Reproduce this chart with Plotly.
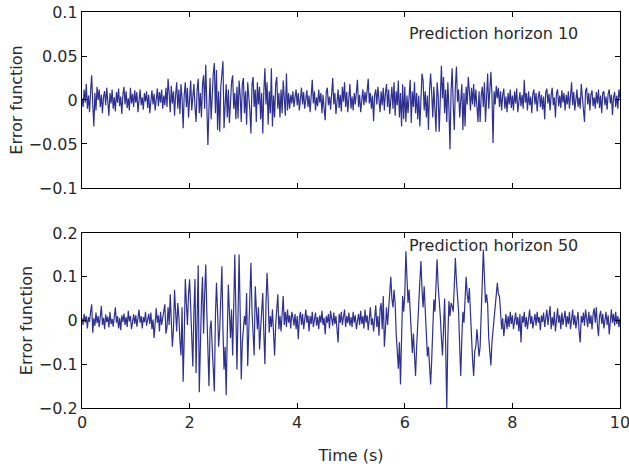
import plotly.graph_objects as go

dt = 0.02
time_s = [round(i * dt, 2) for i in range(501)]

# Error function, prediction horizon 10
err_h10 = [
 0.002,-0.008,0.012,-0.003,0.018,-0.010,0.005,-0.014,0.010,0.028,-0.005,-0.030,0.008,-0.012,0.015,0.000,0.012,-0.008,0.006,-0.015,0.004,0.010,-0.006,0.014,-0.002,-0.018,0.008,-0.004,0.012,-0.010,0.003,-0.013,0.009,-0.003,0.013,-0.007,0.004,-0.016,0.006,0.015,-0.005,0.010,-0.009,0.002,-0.012,0.014,-0.004,0.007,-0.008,0.011,
 -0.003,0.009,-0.014,0.005,0.012,-0.006,0.003,-0.011,0.008,-0.002,0.010,-0.009,0.006,-0.015,0.002,0.011,-0.005,0.007,-0.012,0.004,0.013,-0.007,0.009,-0.003,0.012,-0.010,0.005,-0.006,0.014,-0.008,0.024,0.008,-0.014,0.016,-0.004,0.010,-0.018,0.006,0.020,-0.010,0.012,-0.016,0.018,0.002,-0.032,0.006,0.020,-0.008,0.014,-0.020,
 0.010,0.022,-0.012,0.005,0.018,-0.008,-0.025,0.012,0.024,-0.015,0.008,-0.020,0.018,0.028,-0.010,0.040,0.005,-0.051,-0.010,0.025,-0.022,0.010,0.030,0.042,-0.015,0.034,-0.034,0.010,-0.036,0.015,0.030,0.044,-0.032,-0.005,0.018,-0.020,0.012,-0.026,0.005,0.020,0.028,-0.010,0.008,-0.022,0.015,-0.021,0.022,0.005,-0.025,0.018,
 0.025,-0.015,0.010,-0.028,0.020,0.005,-0.012,-0.038,0.018,0.026,-0.008,0.012,-0.025,0.020,-0.005,0.015,-0.022,0.008,-0.038,0.010,0.036,-0.005,0.020,-0.028,0.010,-0.015,0.036,-0.030,0.005,-0.020,0.018,0.026,-0.010,0.008,-0.020,0.012,-0.015,0.022,0.005,-0.018,0.030,-0.012,0.008,-0.010,0.006,-0.004,0.010,-0.008,0.003,0.012,
 -0.006,0.008,-0.012,0.004,0.014,-0.005,0.009,-0.010,0.002,0.011,-0.008,0.005,-0.014,0.007,0.023,-0.004,0.010,-0.012,0.003,-0.007,0.012,-0.003,0.008,-0.015,0.006,-0.010,-0.023,0.009,0.014,-0.006,0.004,-0.011,0.010,0.025,-0.005,0.008,-0.016,0.002,0.012,-0.009,0.006,-0.013,0.015,-0.002,0.020,-0.008,0.009,-0.014,0.005,0.018,
 -0.010,0.004,-0.012,0.008,-0.005,0.010,0.023,-0.008,0.006,-0.014,0.003,0.012,-0.006,0.009,-0.003,0.014,0.024,-0.004,0.008,-0.010,0.005,-0.024,0.006,0.012,-0.005,0.015,0.002,-0.014,0.010,-0.006,0.014,-0.012,0.008,0.018,-0.008,0.012,-0.016,0.005,0.015,-0.010,0.020,-0.018,0.010,-0.006,0.022,-0.020,0.008,-0.030,0.018,-0.022,
 0.015,-0.025,0.005,-0.015,0.012,0.023,-0.026,0.010,-0.008,0.020,-0.015,0.008,-0.022,0.005,-0.030,0.015,0.030,0.022,-0.012,0.010,-0.020,0.005,-0.034,0.012,0.030,0.008,-0.020,0.015,-0.010,-0.036,0.020,0.005,-0.036,0.010,0.039,0.002,0.026,-0.015,0.012,-0.025,0.020,-0.010,-0.056,0.010,0.036,-0.005,-0.034,0.015,0.038,-0.002,
 0.012,-0.020,0.005,0.018,-0.034,0.008,-0.030,0.015,-0.005,0.026,0.010,-0.012,0.014,-0.005,0.018,-0.008,0.012,-0.015,-0.025,0.010,-0.025,0.005,0.015,-0.008,0.020,-0.025,0.010,0.030,-0.010,0.015,0.032,0.005,-0.049,0.010,-0.005,0.016,0.002,0.014,-0.008,0.010,-0.012,0.006,0.013,-0.010,0.004,-0.014,0.008,-0.005,0.012,-0.009,
 0.005,-0.012,0.010,-0.004,0.013,-0.014,0.003,0.009,-0.007,0.006,-0.010,0.023,-0.003,0.008,-0.012,0.010,-0.006,0.004,-0.015,0.007,0.012,-0.005,0.008,-0.013,0.003,0.010,-0.008,0.006,-0.011,0.004,-0.022,0.009,0.013,-0.004,0.007,-0.012,0.005,0.014,-0.006,0.003,-0.020,0.008,0.012,-0.007,0.005,-0.009,0.011,-0.003,0.008,-0.012,
 0.006,-0.005,0.010,-0.010,0.004,0.020,-0.006,0.009,-0.012,0.005,0.012,-0.008,0.003,-0.010,0.018,0.004,-0.008,-0.025,0.010,0.014,-0.005,0.008,-0.012,0.006,0.011,-0.007,0.003,-0.010,0.009,-0.004,0.012,-0.009,0.005,-0.015,0.008,0.010,-0.006,0.004,-0.011,0.007,0.012,-0.004,0.006,-0.017,0.003,0.009,-0.008,0.005,-0.010,0.012,0.002,
]

# Error function, prediction horizon 50
err_h50 = [
 0.005,-0.010,0.015,-0.005,0.010,-0.018,0.008,-0.003,0.020,0.037,-0.028,0.005,-0.012,0.018,-0.006,0.010,-0.015,0.012,0.033,-0.010,0.006,-0.020,0.014,-0.004,0.009,-0.016,0.020,-0.008,0.004,-0.014,0.015,0.030,-0.005,0.010,-0.018,0.006,-0.022,0.012,-0.003,0.016,-0.010,0.008,-0.015,0.022,-0.002,0.010,-0.020,0.005,0.014,-0.008,
 0.012,-0.014,0.006,0.025,-0.005,0.010,-0.018,0.008,-0.004,0.020,-0.012,0.005,0.015,-0.008,0.018,-0.020,0.002,-0.040,0.010,0.028,-0.005,0.012,-0.025,0.020,-0.010,0.005,0.025,0.037,-0.030,-0.015,0.030,-0.010,0.060,0.010,-0.060,-0.020,0.070,0.020,-0.025,0.040,0.010,-0.045,-0.080,0.030,-0.140,-0.040,0.095,0.040,-0.010,0.060,
 0.094,0.030,-0.060,-0.105,0.020,0.095,-0.120,0.010,0.126,-0.164,-0.040,0.040,0.100,-0.030,0.060,0.128,0.020,-0.090,-0.150,-0.020,0.000,-0.060,-0.120,-0.162,0.010,0.086,0.020,-0.060,-0.020,0.060,0.124,-0.020,-0.112,-0.060,-0.171,-0.030,0.082,0.020,-0.040,0.025,-0.080,0.030,0.151,0.020,-0.112,0.010,0.151,0.020,-0.135,-0.050,
 -0.020,0.010,-0.010,0.063,-0.104,-0.020,0.060,0.132,0.020,-0.040,-0.080,0.078,0.010,-0.020,0.030,-0.066,-0.020,0.020,0.063,-0.030,-0.100,0.040,0.109,0.050,-0.028,0.010,-0.015,0.025,-0.020,-0.080,-0.010,0.020,0.060,-0.020,0.010,-0.025,0.030,0.056,-0.010,0.020,-0.015,0.025,-0.005,0.012,-0.018,0.020,0.008,-0.012,0.015,-0.020,
 0.010,-0.043,0.005,0.020,-0.010,0.015,-0.020,0.008,0.025,-0.005,0.012,-0.025,0.010,-0.008,0.020,-0.015,0.005,0.018,-0.012,0.008,-0.020,0.012,-0.005,0.022,-0.010,0.006,-0.032,0.010,-0.005,0.015,-0.018,0.022,0.005,-0.012,0.018,-0.008,0.010,-0.020,-0.050,0.015,-0.005,0.020,-0.010,0.008,0.025,-0.015,0.010,-0.006,0.018,-0.012,
 0.008,-0.015,0.020,-0.005,0.012,-0.020,0.005,0.015,-0.010,0.022,-0.008,0.010,-0.018,0.025,-0.005,0.012,-0.022,0.015,0.030,-0.010,0.005,-0.025,0.020,0.035,-0.015,0.010,-0.035,0.025,0.040,-0.020,0.056,-0.060,-0.020,0.030,-0.010,0.020,0.060,0.100,0.050,0.030,0.070,0.040,-0.030,-0.060,-0.110,-0.050,-0.146,-0.040,0.056,0.020,
 0.060,0.158,0.100,0.040,0.071,0.010,-0.040,-0.074,-0.030,-0.090,-0.127,-0.060,0.010,0.040,0.090,0.136,0.070,0.030,0.078,0.020,-0.030,-0.082,-0.060,-0.100,-0.146,-0.090,-0.020,0.048,0.020,0.090,0.140,0.080,0.048,0.010,-0.040,-0.080,-0.020,0.050,-0.060,-0.203,-0.040,0.044,0.010,0.040,0.033,0.020,0.080,0.143,0.090,0.060,
 0.020,-0.060,-0.127,-0.040,0.020,-0.005,0.050,0.100,0.060,0.040,0.074,0.010,-0.043,-0.090,-0.127,-0.070,-0.060,-0.020,-0.050,-0.082,-0.060,0.030,0.120,0.162,0.100,0.040,0.060,0.037,-0.040,-0.080,-0.103,-0.050,-0.020,0.010,0.040,0.060,0.086,0.060,0.055,0.020,-0.020,0.005,-0.036,-0.010,0.015,-0.020,0.010,-0.015,0.020,-0.008,
 0.012,-0.020,0.005,0.018,-0.010,0.008,-0.025,0.015,-0.050,0.010,-0.005,0.020,-0.015,0.008,-0.020,0.012,0.025,-0.008,0.010,-0.018,0.005,0.015,-0.012,0.020,-0.005,0.008,-0.022,0.012,-0.003,0.018,-0.015,0.005,0.025,-0.010,0.015,0.033,-0.020,0.008,-0.012,0.020,-0.025,0.010,0.028,-0.005,0.012,-0.020,0.018,-0.010,0.005,0.022,
 -0.015,0.010,-0.008,0.020,-0.020,0.005,0.025,-0.010,0.012,-0.018,0.008,0.020,-0.025,-0.050,0.010,-0.005,0.018,-0.012,0.025,0.005,-0.015,0.020,-0.008,0.012,-0.020,0.015,0.028,-0.005,0.030,-0.010,-0.036,0.010,0.022,-0.008,0.015,-0.018,0.005,0.020,-0.010,0.012,-0.032,0.008,0.025,-0.005,0.015,-0.012,0.020,-0.008,0.010,-0.015,0.005,
]

x_ticks = [0, 2, 4, 6, 8, 10]
x_tick_labels = ["0", "2", "4", "6", "8", "10"]
y1_ticks = [-0.1, -0.05, 0, 0.05, 0.1]
y1_tick_labels = ["\u22120.1", "\u22120.05", "0", "0.05", "0.1"]
y2_ticks = [-0.2, -0.1, 0, 0.1, 0.2]
y2_tick_labels = ["\u22120.2", "\u22120.1", "0", "0.1", "0.2"]
labels = ["Prediction horizon 10", "Prediction horizon 50"]

LINE = "#2E3192"
FONT = "DejaVu Sans, Liberation Sans, Arial, sans-serif"
TXT = "#2a2a2a"
FS = 16

fig = go.Figure()
fig.add_trace(go.Scatter(x=time_s, y=err_h10, mode="lines",
                         line=dict(color=LINE, width=1.2), xaxis="x", yaxis="y",
                         showlegend=False, hoverinfo="skip"))
fig.add_trace(go.Scatter(x=time_s, y=err_h50, mode="lines",
                         line=dict(color=LINE, width=1.2), xaxis="x2", yaxis="y2",
                         showlegend=False, hoverinfo="skip"))

axis_common = dict(showline=True, linecolor="black", linewidth=1.3, mirror="ticks",
                   ticks="inside", ticklen=5, tickcolor="black", showgrid=False,
                   zeroline=False, automargin=False, ticklabeloverflow="allow",
                   tickfont=dict(size=FS, color=TXT, family=FONT))
title_font = dict(size=FS, family=FONT, color=TXT)

fig.update_layout(
    width=629, height=467,
    paper_bgcolor="white", plot_bgcolor="white",
    margin=dict(l=82, r=9, t=12, b=59, autoexpand=False),
    font=dict(family=FONT, color=TXT),
    xaxis=dict(domain=[0, 1], range=[0, 10], tickvals=x_ticks, showticklabels=False,
               anchor="y", **axis_common),
    yaxis=dict(domain=[0.5556, 1], range=[-0.1, 0.1], tickvals=y1_ticks,
               ticktext=y1_tick_labels, anchor="x",
               title=dict(text="Error function", font=title_font, standoff=2),
               **axis_common),
    xaxis2=dict(domain=[0, 1], range=[0, 10], tickvals=x_ticks, ticktext=x_tick_labels,
                anchor="y2",
                title=dict(text="Time (s)", font=title_font, standoff=18),
                **axis_common),
    yaxis2=dict(domain=[0, 0.4419], range=[-0.2, 0.2], tickvals=y2_ticks,
                ticktext=y2_tick_labels, anchor="x2",
                title=dict(text="Error function", font=title_font, standoff=2),
                **axis_common),
    annotations=[
        dict(text=labels[0], x=6.04, y=0.076, xref="x", yref="y", xanchor="left",
             yanchor="middle", showarrow=False, font=title_font),
        dict(text=labels[1], x=6.04, y=0.172, xref="x2", yref="y2", xanchor="left",
             yanchor="middle", showarrow=False, font=title_font),
    ],
)

fig.write_html("out.html", config={"displayModeBar": False},
               post_script="document.body.style.margin='0';document.body.style.overflow='hidden';")
